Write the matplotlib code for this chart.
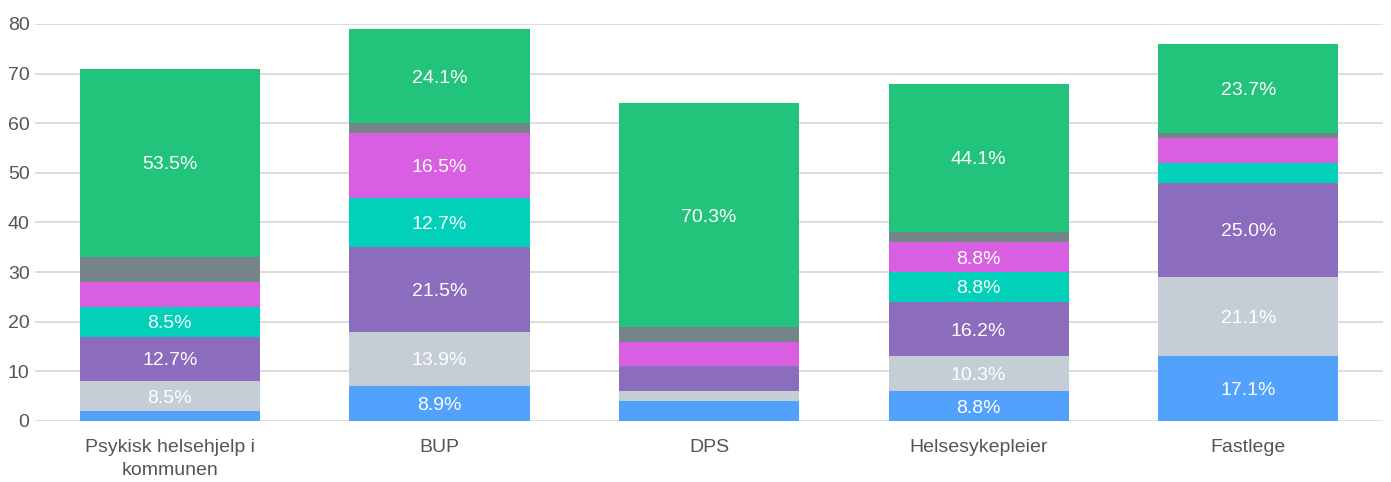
import matplotlib
matplotlib.use("Agg")
import matplotlib.pyplot as plt
import numpy as np

plt.rcParams['font.family'] = ['Liberation Sans', 'DejaVu Sans']

categories = ["Psykisk helsehjelp i\nkommunen", "BUP", "DPS", "Helsesykepleier", "Fastlege"]
# stacked segments, bottom to top
seg_blue = [2, 7, 4, 6, 13]
seg_lightgray = [6, 11, 2, 7, 16]
seg_purple = [9, 17, 5, 11, 19]
seg_teal = [6, 10, 0, 6, 4]
seg_magenta = [5, 13, 5, 6, 5]
seg_gray = [5, 2, 3, 2, 1]
seg_green = [38, 19, 45, 30, 18]

series = [seg_blue, seg_lightgray, seg_purple, seg_teal, seg_magenta, seg_gray, seg_green]
colors = ["#52a2fd", "#c5ced6", "#8b6cbd", "#00d1b8", "#d95fe2", "#758489", "#22c37b"]

fig = plt.figure(figsize=(13.91, 4.82), dpi=100)
ax = fig.add_axes([0.0252, 0.1266, 0.9691, 0.8237])

x = np.arange(len(categories))
totals = np.sum(np.array(series), axis=0)
bottom = np.zeros(len(categories))
for vals, col in zip(series, colors):
    vals = np.array(vals, dtype=float)
    ax.bar(x, vals, bottom=bottom, width=0.668, color=col, zorder=3)
    for i in range(len(x)):
        pct = vals[i] / totals[i] * 100
        if pct >= 8:
            ax.text(x[i], bottom[i] + vals[i] / 2, f"{pct:.1f}%", ha="center", va="center_baseline",
                    color="white", fontsize=14, zorder=4)
    bottom += vals

ax.set_xlim(-0.5, 4.5)
ax.set_ylim(0, 80)
ax.set_yticks(range(0, 81, 10))
ax.yaxis.grid(True, color="#dddddd", lw=1.4, zorder=0)
ax.set_axisbelow(True)
ax.set_xticks(x)
ax.set_xticklabels(categories, fontsize=14, color="#555555", linespacing=1.45)
ax.tick_params(axis="y", labelsize=14, labelcolor="#555555", length=0, pad=4)
ax.tick_params(axis="x", length=0, pad=13)
for s in ax.spines.values():
    s.set_visible(False)

plt.savefig("out.png", dpi=100)
